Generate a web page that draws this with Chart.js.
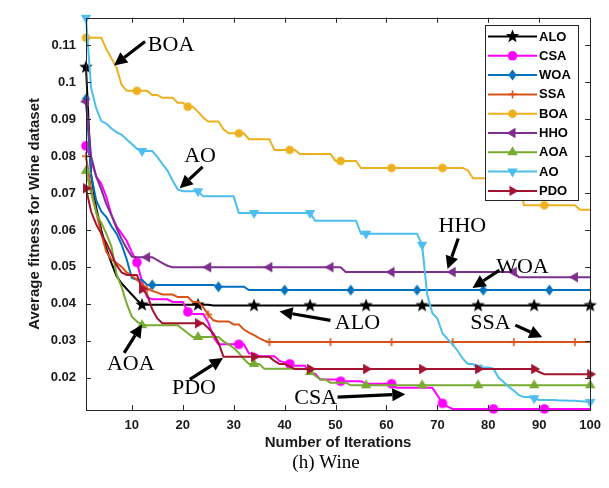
<!DOCTYPE html>
<html><head><meta charset="utf-8">
<script src="https://cdn.jsdelivr.net/npm/chart.js@4.4.0/dist/chart.umd.min.js"></script>
<style>html,body{margin:0;padding:0;background:#fff;}#wrap{width:609px;height:488px;}</style>
</head><body><div id="wrap"><canvas id="c" width="609" height="488"></canvas></div>
<script>
// ---------- data ----------
const iterations = Array.from({length: 100}, (_, i) => i + 1);
const xTickValues = [10, 20, 30, 40, 50, 60, 70, 80, 90, 100];
const yTickValues = [0.02, 0.03, 0.04, 0.05, 0.06, 0.07, 0.08, 0.09, 0.1, 0.11];
const yTickLabels = ['0.02', '0.03', '0.04', '0.05', '0.06', '0.07', '0.08', '0.09', '0.1', '0.11'];
const seriesNames = ['ALO', 'CSA', 'WOA', 'SSA', 'BOA', 'HHO', 'AOA', 'AO', 'PDO'];
const captionText = '(h) Wine';

const ALO = [0.1041,0.075,0.066,0.060,0.055,0.051,0.0475,0.0455,0.044,0.0425,
 0.041,0.0397,0.0397,0.0397,0.0397,0.0397,0.0397,0.0397,0.0397,0.0397,
 0.0397,0.0397,0.0397,0.0397,0.0397,0.0395,0.0395,0.0395,0.0395,0.0395,
 0.0395,0.0395,0.0395,0.0395,0.0395,0.0395,0.0395,0.0395,0.0395,0.0395,
 0.0395,0.0395,0.0395,0.0395,0.0395,0.0395,0.0395,0.0395,0.0395,0.0395,
 0.0395,0.0395,0.0395,0.0395,0.0395,0.0395,0.0395,0.0395,0.0395,0.0395,
 0.0395,0.0395,0.0395,0.0395,0.0395,0.0395,0.0395,0.0395,0.0395,0.0395,
 0.0395,0.0395,0.0395,0.0395,0.0395,0.0395,0.0395,0.0395,0.0395,0.0395,
 0.0395,0.0395,0.0395,0.0395,0.0395,0.0395,0.0395,0.0395,0.0395,0.0395,
 0.0395,0.0395,0.0395,0.0395,0.0395,0.0395,0.0395,0.0395,0.0395,0.0395];
const CSA = [0.0828,0.079,0.0745,0.0725,0.069,0.064,0.061,0.059,0.057,0.054,
 0.0512,0.046,0.0418,0.0412,0.0412,0.0412,0.0412,0.0405,0.0405,0.0405,
 0.0378,0.0372,0.0372,0.0372,0.035,0.031,0.029,0.029,0.029,0.029,
 0.029,0.029,0.0265,0.0265,0.0258,0.0258,0.0258,0.0258,0.0245,0.0241,
 0.0237,0.0232,0.0232,0.0232,0.021,0.021,0.0195,0.0195,0.0195,0.0195,
 0.019,0.019,0.019,0.019,0.019,0.0183,0.0183,0.0183,0.0183,0.0183,
 0.0183,0.0172,0.0172,0.0172,0.0172,0.0172,0.0172,0.0172,0.0172,0.0152,
 0.013,0.0121,0.0115,0.0115,0.0115,0.0115,0.0115,0.0115,0.0115,0.0115,
 0.0115,0.0115,0.0115,0.0115,0.0115,0.0115,0.0115,0.0115,0.0115,0.0115,
 0.0115,0.0115,0.0115,0.0115,0.0115,0.0115,0.0115,0.0115,0.0115,0.0115];
const WOA = [0.0955,0.075,0.068,0.065,0.0635,0.061,0.059,0.056,0.052,0.047,
 0.0465,0.0465,0.0451,0.0451,0.0451,0.0451,0.0451,0.0451,0.0451,0.0451,
 0.0451,0.0451,0.0451,0.0451,0.0451,0.0451,0.0446,0.0446,0.0446,0.0446,
 0.0446,0.0446,0.0437,0.0437,0.0437,0.0437,0.0437,0.0437,0.0437,0.0437,
 0.0437,0.0437,0.0437,0.0437,0.0437,0.0437,0.0437,0.0437,0.0437,0.0437,
 0.0437,0.0437,0.0437,0.0437,0.0437,0.0437,0.0437,0.0437,0.0437,0.0437,
 0.0437,0.0437,0.0437,0.0437,0.0437,0.0437,0.0437,0.0437,0.0437,0.0437,
 0.0437,0.0437,0.0437,0.0437,0.0437,0.0437,0.0437,0.0437,0.0437,0.0437,
 0.0437,0.0437,0.0437,0.0437,0.0437,0.0437,0.0437,0.0437,0.0437,0.0437,
 0.0437,0.0437,0.0437,0.0437,0.0437,0.0437,0.0437,0.0437,0.0437,0.0437];
const SSA = [0.080,0.071,0.065,0.059,0.054,0.052,0.051,0.050,0.0485,0.0475,
 0.0465,0.0454,0.044,0.0435,0.043,0.0425,0.0425,0.0425,0.0418,0.0418,
 0.0418,0.0405,0.0405,0.039,0.0371,0.0355,0.0352,0.0352,0.0352,0.0344,
 0.0344,0.033,0.0322,0.0315,0.0307,0.030,0.0296,0.0296,0.0296,0.0296,
 0.0296,0.0296,0.0296,0.0296,0.0296,0.0296,0.0296,0.0296,0.0296,0.0296,
 0.0296,0.0296,0.0296,0.0296,0.0296,0.0296,0.0296,0.0296,0.0296,0.0296,
 0.0296,0.0296,0.0296,0.0296,0.0296,0.0296,0.0296,0.0296,0.0296,0.0296,
 0.0296,0.0296,0.0296,0.0296,0.0296,0.0296,0.0296,0.0296,0.0296,0.0296,
 0.0296,0.0296,0.0296,0.0296,0.0296,0.0296,0.0296,0.0296,0.0296,0.0296,
 0.0296,0.0296,0.0296,0.0296,0.0296,0.0296,0.0296,0.0296,0.0296,0.0296];
const BOA = [0.1121,0.1121,0.1121,0.1121,0.109,0.1065,0.104,0.0993,0.0977,0.0977,
 0.0977,0.0977,0.0977,0.0966,0.0966,0.0958,0.0958,0.0958,0.0945,0.0945,
 0.0934,0.0934,0.092,0.0905,0.0894,0.0894,0.0894,0.0873,0.0862,0.0862,
 0.0862,0.0862,0.0846,0.0846,0.0846,0.0846,0.0846,0.0817,0.0817,0.0817,
 0.0817,0.0817,0.0806,0.0806,0.0806,0.0806,0.0806,0.0806,0.0806,0.0787,
 0.0787,0.0787,0.0787,0.0787,0.0768,0.0768,0.0768,0.0768,0.0768,0.0768,
 0.0768,0.0768,0.0768,0.0768,0.0768,0.0768,0.0768,0.0768,0.0768,0.0768,
 0.0768,0.0768,0.0768,0.0768,0.0768,0.0761,0.074,0.074,0.074,0.074,
 0.074,0.074,0.074,0.074,0.074,0.074,0.0667,0.0667,0.0667,0.0667,
 0.0667,0.0667,0.0667,0.0667,0.0667,0.0667,0.0667,0.0655,0.0655,0.0655];
const HHO = [0.0948,0.080,0.0745,0.071,0.067,0.064,0.0605,0.0575,0.055,0.0528,
 0.0526,0.0526,0.0526,0.0526,0.0518,0.051,0.0503,0.0499,0.0499,0.0499,
 0.0499,0.0499,0.0499,0.0499,0.0499,0.0499,0.0499,0.0499,0.0499,0.0499,
 0.0499,0.0499,0.0499,0.0499,0.0499,0.0499,0.0499,0.0499,0.0499,0.0499,
 0.0499,0.0499,0.0499,0.0499,0.0499,0.0499,0.0499,0.0499,0.0499,0.0499,
 0.0499,0.0486,0.0486,0.0486,0.0486,0.0486,0.0486,0.0486,0.0486,0.0486,
 0.0486,0.0486,0.0486,0.0486,0.0486,0.0486,0.0486,0.0486,0.0486,0.0486,
 0.0486,0.0486,0.0486,0.0486,0.0486,0.0486,0.0486,0.0486,0.0486,0.0486,
 0.0486,0.0486,0.0486,0.0486,0.0486,0.0472,0.0472,0.0472,0.0472,0.0472,
 0.0472,0.0472,0.0472,0.0472,0.0472,0.0472,0.0472,0.0472,0.0472,0.0472];
const AOA = [0.076,0.070,0.0646,0.062,0.059,0.0555,0.048,0.0445,0.040,0.0365,
 0.0352,0.0342,0.0342,0.0342,0.0342,0.0342,0.0342,0.0342,0.0342,0.0331,
 0.032,0.031,0.031,0.031,0.031,0.031,0.031,0.0298,0.029,0.028,
 0.0267,0.025,0.0237,0.0237,0.0237,0.0224,0.0224,0.0224,0.0224,0.0224,
 0.0224,0.0224,0.0224,0.0224,0.0215,0.0205,0.0195,0.0195,0.0186,0.0186,
 0.0186,0.0186,0.0179,0.0179,0.0179,0.0179,0.0179,0.0179,0.0179,0.0179,
 0.0179,0.0179,0.0179,0.0179,0.0179,0.0179,0.0179,0.0179,0.0179,0.0179,
 0.0179,0.0179,0.0179,0.0179,0.0179,0.0179,0.0179,0.0179,0.0179,0.0179,
 0.0179,0.0179,0.0179,0.0179,0.0179,0.0179,0.0179,0.0179,0.0179,0.0179,
 0.0179,0.0179,0.0179,0.0179,0.0179,0.0179,0.0179,0.0179,0.0179,0.0179];
const AO = [0.1175,0.0985,0.093,0.0895,0.0888,0.0875,0.0865,0.0858,0.0845,0.0833,
 0.082,0.0814,0.0814,0.0814,0.0798,0.0779,0.0761,0.0734,0.071,0.0705,
 0.0705,0.0705,0.0705,0.0691,0.0691,0.0691,0.0691,0.0691,0.0691,0.0691,
 0.0646,0.0646,0.0646,0.0646,0.0646,0.0646,0.0646,0.0646,0.0646,0.0646,
 0.0646,0.0646,0.0646,0.0646,0.0646,0.0625,0.0625,0.0625,0.0625,0.0625,
 0.0625,0.0625,0.0625,0.0625,0.059,0.059,0.059,0.059,0.059,0.059,
 0.059,0.059,0.059,0.059,0.059,0.059,0.056,0.0425,0.0375,0.036,
 0.032,0.0304,0.029,0.0272,0.0251,0.0237,0.0237,0.0227,0.0227,0.0227,
 0.0224,0.020,0.0188,0.0175,0.0165,0.0152,0.0147,0.0147,0.0144,0.0139,
 0.0139,0.0139,0.0139,0.0138,0.0138,0.0137,0.0137,0.0136,0.0135,0.0134];
const PDO = [0.0713,0.065,0.0615,0.059,0.0565,0.0535,0.0504,0.0485,0.0478,0.0478,
 0.0478,0.044,0.0425,0.0385,0.036,0.0347,0.0347,0.0347,0.0347,0.0347,
 0.0347,0.0347,0.0347,0.0347,0.0334,0.032,0.0295,0.0256,0.0256,0.0256,
 0.0256,0.0256,0.0256,0.0256,0.0256,0.0256,0.0256,0.0245,0.0237,0.0237,
 0.023,0.0223,0.0223,0.0223,0.0223,0.0223,0.0223,0.0223,0.0223,0.0223,
 0.0223,0.0223,0.0223,0.0223,0.0223,0.0223,0.0223,0.0223,0.0223,0.0223,
 0.0223,0.0223,0.0223,0.0223,0.0223,0.0223,0.0223,0.0223,0.0223,0.0223,
 0.0223,0.0223,0.0223,0.0223,0.0223,0.0223,0.0223,0.0223,0.0223,0.0223,
 0.0223,0.0223,0.0223,0.0223,0.0223,0.0223,0.0223,0.0223,0.0223,0.0215,
 0.0209,0.0209,0.0209,0.0209,0.0209,0.0209,0.0209,0.0209,0.0209,0.0209];

// ---------- styles ----------
const seriesValues = [ALO, CSA, WOA, SSA, BOA, HHO, AOA, AO, PDO];
const seriesColors = ['#000000', '#FF00FF', '#0072BD', '#D95319', '#EDB120', '#7E2F8E', '#77AC30', '#4DBEEE', '#A2142F'];
const seriesMarkers = ['star', 'circle', 'diamond', 'plus', 'circle', 'left', 'up', 'down', 'right'];
const markerSizes = [7, 4.8, 5.5, 4, 4.3, 6, 6, 6, 6];
const markerEvery = [11, 10, 13, 12, 10, 12, 11, 11, 11];

const annotations = [
  {text: 'BOA', tx: 17.7, ty: 0.1100, x0: 12.6, y0: 0.1111, x1: 6.5, y1: 0.1046},
  {text: 'AO',  tx: 23.4, ty: 0.0801, x0: 23.9, y0: 0.0771, x1: 19.4, y1: 0.0713},
  {text: 'HHO', tx: 74.9, ty: 0.0611, x0: 74.1, y0: 0.0577, x1: 72.0, y1: 0.0494},
  {text: 'WOA', tx: 86.7, ty: 0.0499, x0: 82.2, y0: 0.0491, x1: 76.9, y1: 0.0443},
  {text: 'ALO', tx: 54.3, ty: 0.0347, x0: 49.0, y0: 0.0355, x1: 39.0, y1: 0.0379},
  {text: 'SSA', tx: 80.4, ty: 0.0347, x0: 85.3, y0: 0.0342, x1: 90.6, y1: 0.0309},
  {text: 'AOA', tx: 9.8,  ty: 0.0237, x0: 8.5,  y0: 0.0267, x1: 12.0, y1: 0.0344},
  {text: 'PDO', tx: 22.2, ty: 0.0171, x0: 21.4, y0: 0.0195, x1: 27.9, y1: 0.0253},
  {text: 'CSA', tx: 46.1, ty: 0.0144, x0: 50.4, y0: 0.0147, x1: 63.7, y1: 0.0155}
];

function drawMarker(g, kind, x, y, r, color) {
  g.save();
  g.fillStyle = color; g.strokeStyle = color; g.lineWidth = 1;
  g.beginPath();
  if (kind === 'star') {
    for (let k = 0; k < 10; k++) {
      const rr = (k % 2) ? r * 0.42 : r;
      const a = -Math.PI / 2 + k * Math.PI / 5;
      const px = x + rr * Math.cos(a), py = y + rr * Math.sin(a);
      if (k) g.lineTo(px, py); else g.moveTo(px, py);
    }
    g.closePath(); g.fill();
  } else if (kind === 'circle') {
    g.arc(x, y, r, 0, 2 * Math.PI); g.fill();
  } else if (kind === 'diamond') {
    g.moveTo(x, y - r); g.lineTo(x + r * 0.75, y); g.lineTo(x, y + r); g.lineTo(x - r * 0.75, y);
    g.closePath(); g.fill();
  } else if (kind === 'plus') {
    g.lineWidth = 1.6;
    g.moveTo(x - r, y); g.lineTo(x + r, y); g.moveTo(x, y - r); g.lineTo(x, y + r); g.stroke();
  } else {
    const dir = {up: -Math.PI / 2, down: Math.PI / 2, left: Math.PI, right: 0}[kind];
    for (let k = 0; k < 3; k++) {
      const a = dir + k * 2 * Math.PI / 3;
      const px = x + r * Math.cos(a), py = y + r * Math.sin(a);
      if (k) g.lineTo(px, py); else g.moveTo(px, py);
    }
    g.closePath(); g.fill();
  }
  g.restore();
}
function makeMarker(kind, color, r) {
  const c = document.createElement('canvas');
  const S = Math.ceil(r * 2 + 4);
  c.width = S; c.height = S;
  drawMarker(c.getContext('2d'), kind, S / 2, S / 2, r, color);
  return c;
}

const datasets = seriesNames.map((name, i) => ({
  label: name,
  data: iterations.map((it, k) => ({x: it, y: seriesValues[i][k]})),
  borderColor: seriesColors[i],
  backgroundColor: seriesColors[i],
  borderWidth: 2,
  tension: 0,
  fill: false,
  clip: false,
  order: seriesNames.length - 1 - i,
  pointStyle: makeMarker(seriesMarkers[i], seriesColors[i], markerSizes[i]),
  pointRadius: ctx => (ctx.index % markerEvery[i] === 0 ? 4 : 0),
  pointHoverRadius: 0
}));

const overlay = {
  id: 'overlay',
  afterDraw(chart) {
    const g = chart.ctx, a = chart.chartArea;
    const xs = chart.scales.x, ys = chart.scales.y;
    g.save();
    // box
    g.strokeStyle = '#262626'; g.lineWidth = 1;
    g.strokeRect(Math.round(a.left) + 0.5, Math.round(a.top) + 0.5, Math.round(a.right - a.left), Math.round(a.bottom - a.top));
    // inward ticks
    g.beginPath();
    xTickValues.forEach(v => {
      const px = Math.round(xs.getPixelForValue(v)) + 0.5;
      g.moveTo(px, a.bottom); g.lineTo(px, a.bottom - 5);
      g.moveTo(px, a.top); g.lineTo(px, a.top + 5);
    });
    yTickValues.forEach(v => {
      const py = Math.round(ys.getPixelForValue(v)) + 0.5;
      g.moveTo(a.left, py); g.lineTo(a.left + 5, py);
      g.moveTo(a.right, py); g.lineTo(a.right - 5, py);
    });
    g.stroke();
    // annotations
    g.fillStyle = '#000'; g.strokeStyle = '#000';
    g.font = '22px "Liberation Serif"';
    g.textAlign = 'center'; g.textBaseline = 'middle';
    annotations.forEach(n => {
      g.fillText(n.text, xs.getPixelForValue(n.tx), ys.getPixelForValue(n.ty));
      const x0 = xs.getPixelForValue(n.x0), y0 = ys.getPixelForValue(n.y0);
      const x1 = xs.getPixelForValue(n.x1), y1 = ys.getPixelForValue(n.y1);
      const ang = Math.atan2(y1 - y0, x1 - x0);
      const hl = 13, hw = 6.5;
      const bx = x1 - hl * Math.cos(ang), by = y1 - hl * Math.sin(ang);
      g.lineWidth = 3.2;
      g.beginPath(); g.moveTo(x0, y0); g.lineTo(bx, by); g.stroke();
      g.beginPath();
      g.moveTo(x1, y1);
      g.lineTo(bx + hw * Math.sin(ang), by - hw * Math.cos(ang));
      g.lineTo(bx - hw * Math.sin(ang), by + hw * Math.cos(ang));
      g.closePath(); g.fill();
    });
    // caption below the axis title
    g.font = '19px "Liberation Serif"';
    g.fillText(captionText, 326, 463);
    // legend
    const L = {x: 485, y: 25, w: 93, h: 175};
    g.fillStyle = '#fff'; g.fillRect(L.x, L.y, L.w, L.h);
    g.strokeStyle = '#262626'; g.lineWidth = 1;
    g.strokeRect(L.x + 0.5, L.y + 0.5, L.w, L.h);
    g.font = 'bold 13px "Liberation Sans"';
    g.textAlign = 'left'; g.textBaseline = 'middle';
    seriesNames.forEach((name, i) => {
      const yy = L.y + 11.5 + i * 19.3;
      g.strokeStyle = seriesColors[i]; g.lineWidth = 2;
      g.beginPath(); g.moveTo(L.x + 3, yy); g.lineTo(L.x + 52, yy); g.stroke();
      drawMarker(g, seriesMarkers[i], L.x + 27.5, yy, markerSizes[i], seriesColors[i]);
      g.fillStyle = '#000';
      g.fillText(name, L.x + 54, yy + 0.5);
    });
    g.restore();
  }
};

new Chart(document.getElementById('c'), {
  type: 'line',
  data: {datasets},
  options: {
    responsive: false,
    devicePixelRatio: 1,
    animation: false,
    events: [],
    layout: {padding: {top: 12, right: 18, left: 0, bottom: 34}},
    plugins: {
      legend: {display: false},
      tooltip: {enabled: false},
      title: {display: false}
    },
    scales: {
      x: {
        type: 'linear', min: 1, max: 100,
        afterBuildTicks: s => { s.ticks = xTickValues.map(v => ({value: v})); },
        afterFit: s => { s.height = 44; },
        grid: {display: false, drawTicks: false, tickLength: 0},
        border: {display: false},
        ticks: {color: '#1a1a1a', padding: 8, font: {family: '"Liberation Sans"', size: 13, weight: 'bold'}, maxRotation: 0, autoSkip: false,
          callback: v => String(v)},
        title: {display: true, text: 'Number of Iterations', color: '#1a1a1a',
          font: {family: '"Liberation Sans"', size: 15, weight: 'bold'}, padding: {top: 0, bottom: 2.5}}
      },
      y: {
        type: 'linear', min: 0.0112, max: 0.1175,
        afterBuildTicks: s => { s.ticks = yTickValues.map(v => ({value: v})); },
        afterFit: s => { s.width = 86; },
        grid: {display: false, drawTicks: false, tickLength: 0},
        border: {display: false},
        ticks: {color: '#1a1a1a', padding: 10, font: {family: '"Liberation Sans"', size: 13, weight: 'bold'},
          callback: v => yTickLabels[yTickValues.indexOf(v)] ?? ''},
        title: {display: true, text: 'Average fitness for Wine dataset', color: '#1a1a1a',
          font: {family: '"Liberation Sans"', size: 15, weight: 'bold'}, padding: {top: 26, bottom: 0}}
      }
    }
  },
  plugins: [overlay]
});
</script></body></html>
